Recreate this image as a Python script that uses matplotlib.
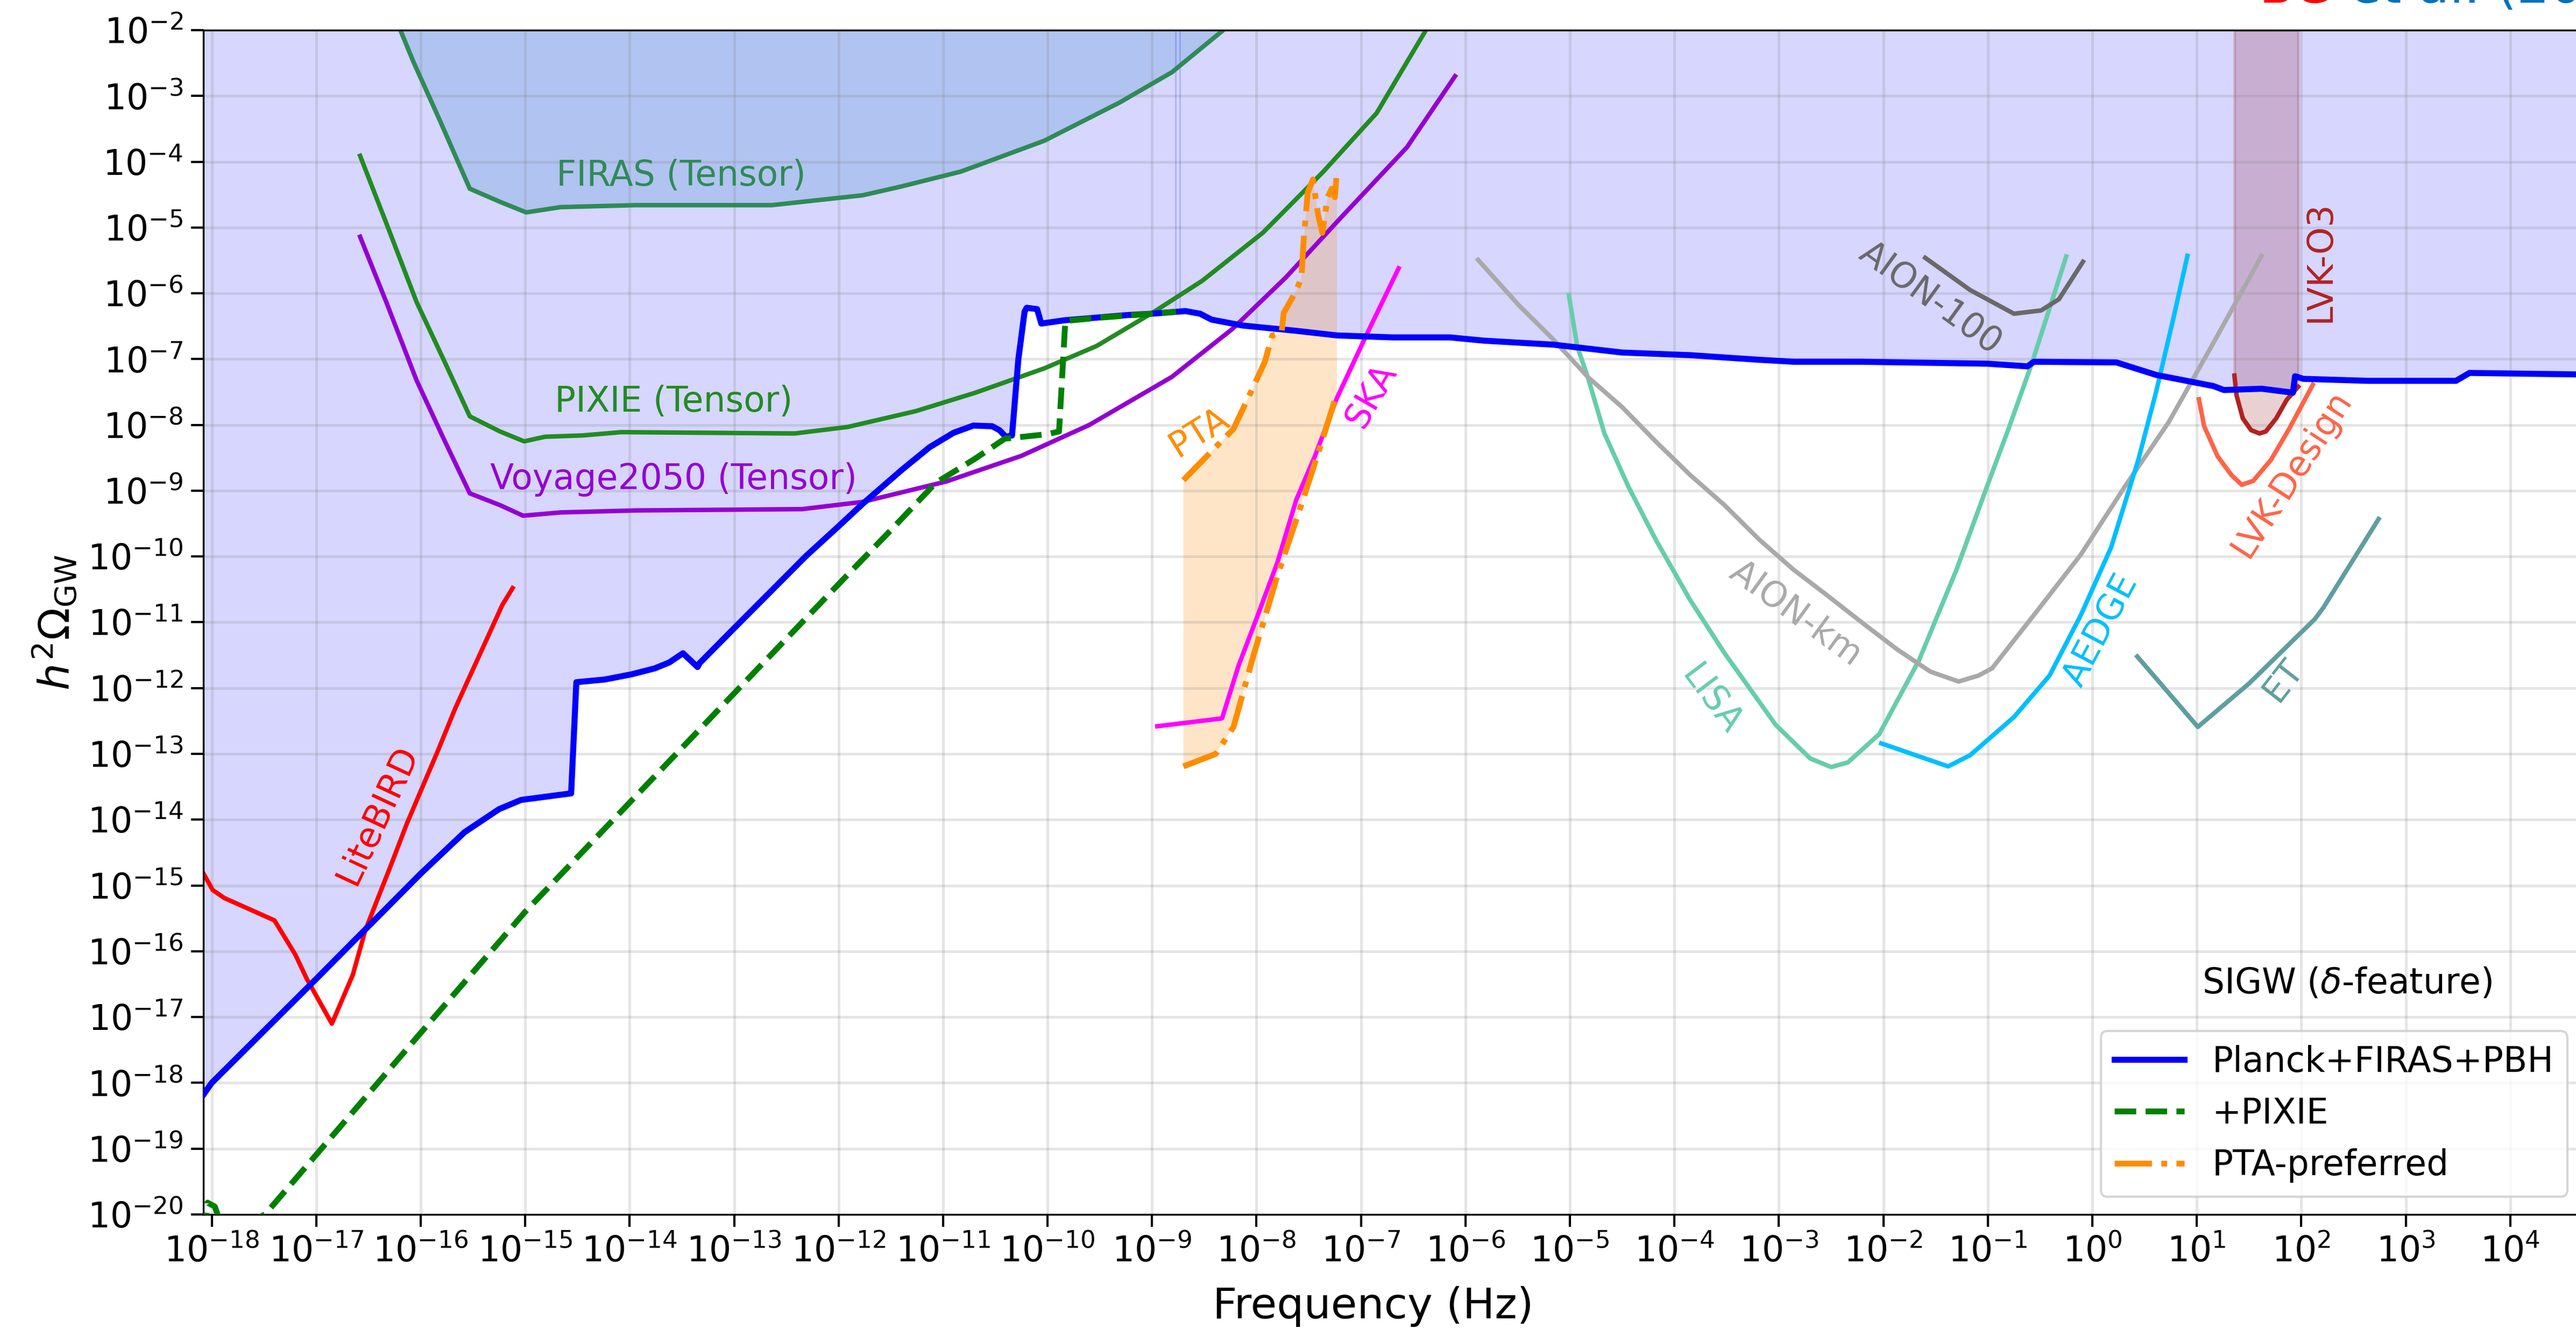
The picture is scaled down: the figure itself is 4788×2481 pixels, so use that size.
import numpy as np
import matplotlib
matplotlib.use('Agg')
import matplotlib.pyplot as plt
from matplotlib.ticker import NullLocator

# all values are log10(f / Hz) and log10(h^2 Omega_GW)
blue_x = [-18.08, -18.0, -17.0, -16.0, -15.58, -15.25, -15.04, -14.56, -14.51, -14.24, -13.98, -13.76,
          -13.62, -13.49, -13.35, -13.33, -13.0, -12.31, -12.0, -11.77, -11.40, -11.13, -10.90, -10.71,
          -10.53, -10.46, -10.40, -10.34, -10.28, -10.22, -10.20, -10.10, -10.06, -9.84, -9.23, -9.0,
          -8.68, -8.54, -8.43, -8.13, -7.62, -7.23, -6.70, -6.15, -5.82, -5.16, -4.50, -3.85, -3.19,
          -2.86, -2.20, -1.0, -0.62, -0.56, 0.23, 0.61, 1.16, 1.26, 1.62, 1.92, 1.94, 2.02, 2.64,
          3.48, 3.61, 5.0]
blue_y = [-18.18, -18.0, -16.42, -14.82, -14.19, -13.84, -13.70, -13.60, -11.91, -11.87, -11.79, -11.70,
          -11.61, -11.47, -11.68, -11.62, -11.09, -9.99, -9.54, -9.20, -8.69, -8.34, -8.12, -8.01,
          -8.02, -8.08, -8.18, -8.16, -7.01, -6.28, -6.22, -6.24, -6.46, -6.41, -6.33, -6.31,
          -6.27, -6.31, -6.40, -6.49, -6.57, -6.64, -6.67, -6.67, -6.72, -6.78, -6.90, -6.94, -7.01,
          -7.04, -7.04, -7.07, -7.11, -7.04, -7.05, -7.24, -7.41, -7.47, -7.45, -7.51, -7.26, -7.30, -7.33,
          -7.33, -7.21, -7.24]

pixie_x = [-18.07, -18.04, -17.97, -17.88, -17.49, -16.0, -15.0, -14.0, -13.0, -12.0, -11.5, -11.07,
           -10.7, -10.41, -10.0, -9.89, -9.83, -9.5, -9.0, -8.77]
pixie_y = [-20.3, -19.82, -19.88, -20.3, -20.0, -17.24, -15.4, -13.74, -12.08, -10.42, -9.6, -8.88,
           -8.52, -8.21, -8.14, -8.10, -6.42, -6.37, -6.31, -6.28]

firas_x = [-16.22, -16.07, -15.82, -15.53, -15.24, -14.99, -14.66, -13.94, -12.64, -11.77, -11.41,
           -10.83, -10.03, -9.31, -8.81, -8.28]
firas_y = [-1.9, -2.48, -3.36, -4.41, -4.61, -4.77, -4.69, -4.66, -4.66, -4.51, -4.38, -4.15, -3.68,
           -3.10, -2.64, -1.95]

pixiet_x = [-16.58, -16.33, -16.04, -15.78, -15.53, -15.24, -15.01, -14.81, -14.45, -14.08, -12.42,
            -11.91, -11.26, -10.69, -10.03, -9.53, -9.0, -8.52, -7.94, -7.36, -6.85, -6.36]
pixiet_y = [-3.91, -4.93, -6.13, -7.01, -7.87, -8.10, -8.25, -8.18, -8.16, -8.11, -8.13, -8.03, -7.79,
            -7.51, -7.14, -6.80, -6.30, -5.81, -5.08, -4.15, -3.26, -1.95]

voyage_x = [-16.58, -16.33, -16.04, -15.78, -15.53, -15.24, -15.02, -14.66, -13.94, -12.35, -11.77,
            -10.97, -10.25, -9.60, -8.81, -8.23, -7.72, -7.21, -6.56, -6.10]
voyage_y = [-5.14, -6.13, -7.32, -8.21, -9.04, -9.22, -9.38, -9.33, -9.30, -9.28, -9.17, -8.86, -8.47,
            -8.0, -7.27, -6.54, -5.76, -4.88, -3.78, -2.70]

litebird_x = [-18.10, -17.99, -17.88, -17.40, -17.20, -17.09, -16.85, -16.65, -16.53, -16.27, -16.13,
              -15.84, -15.67, -15.55, -15.36, -15.22, -15.12]
litebird_y = [-14.76, -15.07, -15.19, -15.53, -16.05, -16.42, -17.10, -16.36, -15.68, -14.63, -14.05,
              -12.97, -12.31, -11.89, -11.23, -10.74, -10.48]

pta_lo_x = [-8.70, -8.39, -8.22, -8.03, -7.80, -7.57, -7.39, -7.23]
pta_lo_y = [-13.19, -13.0, -12.59, -11.51, -10.29, -9.21, -8.33, -7.52]
pta_hi_x = [-8.70, -8.43, -8.22, -8.06, -7.92, -7.85, -7.76, -7.74, -7.62, -7.57, -7.55, -7.51, -7.46,
            -7.41, -7.37, -7.32, -7.28, -7.25, -7.23]
pta_hi_y = [-8.84, -8.40, -8.06, -7.52, -7.04, -6.64, -6.60, -6.30, -5.96, -5.76, -5.22, -4.47, -4.27,
            -4.81, -5.08, -4.54, -4.41, -4.54, -4.14]

ska_x = [-8.95, -8.33, -8.17, -7.99, -7.80, -7.62, -7.44, -7.23, -6.95, -6.64]
ska_y = [-12.58, -12.46, -11.65, -10.90, -10.09, -9.14, -8.47, -7.59, -6.64, -5.62]

lisa_x = [-5.01, -4.93, -4.83, -4.67, -4.44, -4.18, -3.85, -3.52, -3.03, -2.70, -2.50, -2.34, -2.04,
          -1.66, -1.30, -1.0, -0.80, -0.58, -0.25]
lisa_y = [-6.03, -6.81, -7.27, -8.13, -8.94, -9.74, -10.66, -11.47, -12.56, -13.07, -13.20, -13.13,
          -12.70, -11.58, -10.20, -8.90, -8.05, -7.07, -5.44]

aionkm_x = [-5.88, -5.49, -5.16, -4.83, -4.50, -4.18, -3.85, -3.52, -3.19, -2.86, -2.53, -2.20, -1.87,
            -1.55, -1.28, -1.09, -0.96, -0.53, -0.11, 0.31, 0.73, 1.16, 1.62]
aionkm_y = [-5.49, -6.18, -6.70, -7.27, -7.73, -8.25, -8.76, -9.22, -9.74, -10.20, -10.60, -11.01,
            -11.41, -11.75, -11.90, -11.81, -11.70, -10.83, -9.97, -8.94, -7.96, -6.75, -5.43]

aion100_x = [-1.60, -1.17, -0.75, -0.49, -0.32, -0.09]
aion100_y = [-5.46, -5.95, -6.31, -6.26, -6.09, -5.52]

aedge_x = [-2.02, -1.38, -1.17, -0.75, -0.41, -0.11, 0.18, 0.44, 0.61, 0.78, 0.91]
aedge_y = [-12.84, -13.19, -13.02, -12.44, -11.81, -10.89, -9.86, -8.53, -7.5, -6.35, -5.43]

et_x = [0.43, 1.01, 1.50, 2.13, 2.21, 2.74]
et_y = [-11.52, -12.59, -11.93, -10.95, -10.78, -9.43]

lvkd_x = [1.02, 1.07, 1.20, 1.33, 1.43, 1.54, 1.71, 1.88, 2.11]
lvkd_y = [-7.61, -8.02, -8.48, -8.76, -8.91, -8.85, -8.53, -8.07, -7.39]

lvko3_x = [1.36, 1.38, 1.44, 1.52, 1.60, 1.66, 1.76, 1.86, 1.97]
lvko3_y = [-7.25, -7.55, -7.90, -8.08, -8.13, -8.10, -7.90, -7.62, -7.42]

# (text, log f, log Omega, rotation, colour)
labels = [
    ('FIRAS (Tensor)', -13.51, -4.22, 0, 'seagreen'),
    ('PIXIE (Tensor)', -13.58, -7.65, 0, 'forestgreen'),
    ('Voyage2050 (Tensor)', -13.58, -8.83, 0, 'darkviolet'),
    ('LiteBIRD', -16.41, -13.93, 65, 'red'),
    ('PTA', -8.55, -8.11, 32, 'darkorange'),
    ('SKA', -6.90, -7.55, 60, 'magenta'),
    ('AION-100', -1.55, -6.08, -36, 'dimgray'),
    ('AION-km', -2.84, -10.87, -36, 'darkgray'),
    ('LISA', -3.65, -12.18, -53, 'mediumaquamarine'),
    ('AEDGE', 0.08, -11.12, 62, 'deepskyblue'),
    ('ET', 1.83, -11.88, 52, 'cadetblue'),
    ('LVK-Design', 1.91, -8.74, 57, 'tomato'),
    ('LVK-O3', 2.18, -5.52, 90, 'firebrick'),
]


def p(v):
    return 10.0 ** np.asarray(v, dtype=float)


fig = plt.figure(figsize=(4788 / 300, 2481 / 300), dpi=300)
ax = fig.add_axes([378 / 4788, 224 / 2481, 4482 / 4788, 2201 / 2481])
ax.set_xscale('log')
ax.set_yscale('log')
ax.set_xlim(10 ** -18.08, 1e5)
ax.set_ylim(1e-20, 1e-2)

# shaded regions
ax.fill_between(p(blue_x), p(blue_y), 1e-2, color='blue', alpha=0.16, lw=0)
ax.vlines(p([-8.775, -8.735]), p(-6.28), 1e-2, color='blue', alpha=0.2, lw=0.6)
ax.fill_between(p(firas_x), p(firas_y), 1e-2, color='tab:blue', alpha=0.2, lw=0)
ax.fill(p(pta_lo_x + pta_hi_x[::-1]), p(pta_lo_y + pta_hi_y[::-1]), color='darkorange', alpha=0.22, lw=0)
ax.fill_between(p(lvko3_x), p(lvko3_y), 1e-2, color='darkred', alpha=0.18, lw=1.2)

# curves
thin = 2.0
ax.plot(p(firas_x), p(firas_y), color='seagreen', lw=thin)
ax.plot(p(pixiet_x), p(pixiet_y), color='forestgreen', lw=thin)
ax.plot(p(voyage_x), p(voyage_y), color='darkviolet', lw=thin)
ax.plot(p(litebird_x), p(litebird_y), color='red', lw=thin)
ax.plot(p(ska_x), p(ska_y), color='magenta', lw=thin)
ax.plot(p(lisa_x), p(lisa_y), color='mediumaquamarine', lw=thin)
ax.plot(p(aionkm_x), p(aionkm_y), color='darkgray', lw=thin)
ax.plot(p(aion100_x), p(aion100_y), color='dimgray', lw=thin)
ax.plot(p(aedge_x), p(aedge_y), color='deepskyblue', lw=thin)
ax.plot(p(et_x), p(et_y), color='cadetblue', lw=thin)
ax.plot(p(lvkd_x), p(lvkd_y), color='tomato', lw=thin)
ax.plot(p(lvko3_x), p(lvko3_y), color='firebrick', lw=thin)

ax.plot(p(blue_x), p(blue_y), color='blue', lw=2.7, zorder=3, label='Planck+FIRAS+PBH')
ax.plot(p(pixie_x), p(pixie_y), color='green', lw=2.6, ls='--', zorder=4, label='+PIXIE')
ax.plot(p(pta_lo_x), p(pta_lo_y), color='darkorange', lw=2.6, ls='-.', zorder=3, label='PTA-preferred')
ax.plot(p(pta_hi_x), p(pta_hi_y), color='darkorange', lw=2.6, ls='-.', zorder=3)

for txt, lx, ly, rot, col in labels:
    ax.text(p(lx), p(ly), txt, color=col, fontsize=15.5, rotation=rot,
            rotation_mode='anchor', ha='center', va='center')

ax.text(p(2.44), p(-16.49), 'SIGW ($\\delta$-feature)', fontsize=15.5, ha='center', va='center')

ax.set_xticks(p(range(-18, 5)))
ax.set_yticks(p(range(-20, -1)))
ax.xaxis.set_minor_locator(NullLocator())
ax.yaxis.set_minor_locator(NullLocator())
ax.tick_params(labelsize=15.5, length=5.5, width=1)
ax.grid(True, color='gray', alpha=0.2, lw=1.2)

ax.set_xlabel('Frequency (Hz)', fontsize=19)
ax.xaxis.set_label_coords(0.485, -0.0605)
ax.set_ylabel('$h^2\\Omega_{\\rm GW}$', fontsize=19)

ax.legend(loc='lower right', bbox_to_anchor=(4772 / 4788, 257 / 2481),
          bbox_transform=fig.transFigure, borderaxespad=0, fontsize=15.5)

# header text, mostly above the cropped top edge
base = 1 - 5 / 2481
red = fig.text(4199 / 4788, base, 'BG', color='red', fontsize=23, va='baseline')
fig.canvas.draw()
bb = red.get_window_extent(renderer=fig.canvas.get_renderer())
fig.text((bb.x1 + 30) / 4788, base, 'et al. (2023a)', color='#0072bd', fontsize=23, va='baseline')

fig.savefig('out.png', dpi=300)
